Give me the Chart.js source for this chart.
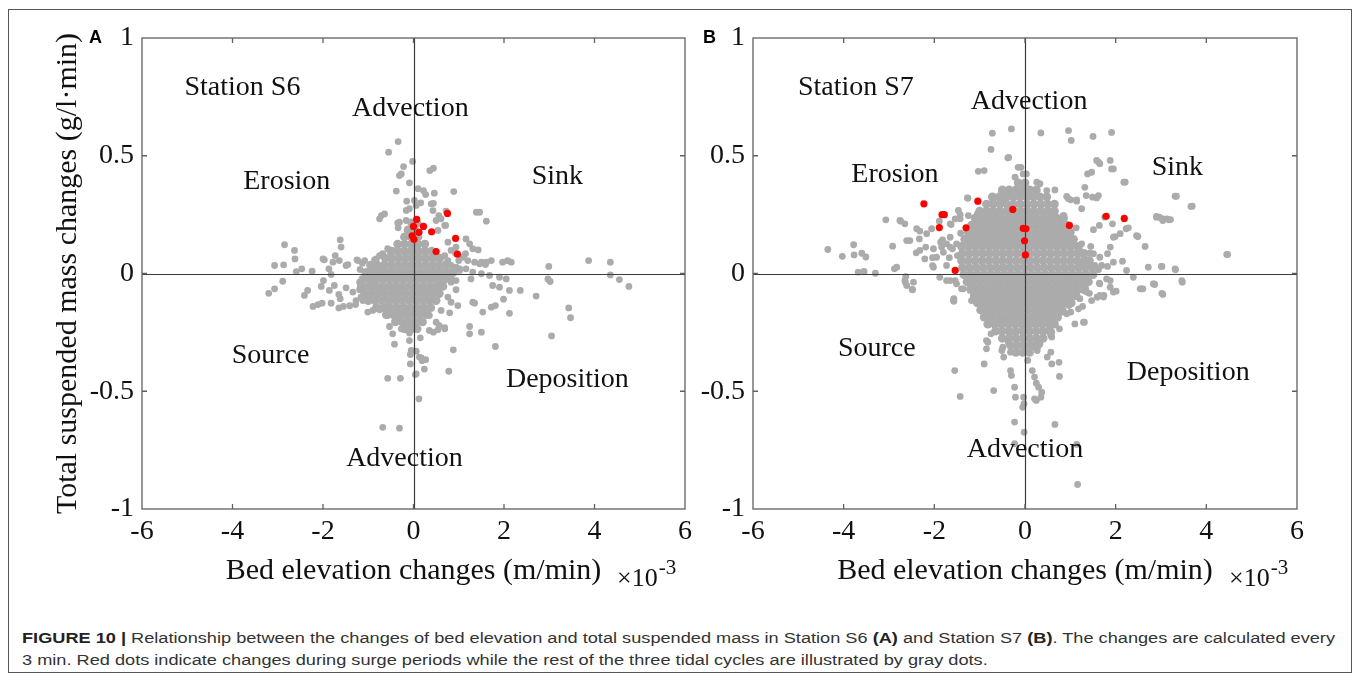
<!DOCTYPE html>
<html><head><meta charset="utf-8">
<script src="https://cdn.jsdelivr.net/npm/chart.js@4.4.1/dist/chart.umd.min.js"></script>
<style>
html,body{margin:0;padding:0;background:#fff;}
#wrap{position:relative;width:1360px;height:680px;overflow:hidden;background:#fff;}
#frame{position:absolute;left:8px;top:9px;width:1344px;height:664px;border:1px solid #555;box-sizing:border-box;}
#cA{position:absolute;left:0;top:0;}
#cB{position:absolute;left:690px;top:0;}
.plabel{position:absolute;font:bold 18px "Liberation Sans",Arial,sans-serif;color:#000;line-height:18px;}
.cap{position:absolute;left:22px;font:15.5px "Liberation Sans",Arial,sans-serif;color:#333;line-height:22px;white-space:nowrap;transform-origin:0 0;}
.cap b{font-weight:bold;color:#222;}
</style></head>
<body>
<div id="wrap">
  <div id="frame"></div>
  <canvas id="cA" width="700" height="600"></canvas>
  <canvas id="cB" width="670" height="600"></canvas>
  <div class="plabel" style="left:89px;top:28px;">A</div>
  <div class="plabel" style="left:703px;top:28px;">B</div>
  <div class="cap" id="cap1" style="top:627px;"><b>FIGURE 10 |</b> Relationship between the changes of bed elevation and total suspended mass in Station S6 <b>(A)</b> and Station S7 <b>(B)</b>. The changes are calculated every</div>
  <div class="cap" id="cap2" style="top:649px;">3 min. Red dots indicate changes during surge periods while the rest of the three tidal cycles are illustrated by gray dots.</div>
</div>
<script>
// ---------------- DATA ----------------
// x values are in units of 10^-3 m/min, y in g/l·min
const xTicks = [-6, -4, -2, 0, 2, 4, 6];
const yTicks = [-1, -0.5, 0, 0.5, 1];
const xTitle = 'Bed elevation changes (m/min)';
const yTitle = 'Total suspended mass changes (g/l\u00B7min)';

// Panel A (Station S6)
const redA = [[0.75,0.255],[0.07,0.23],[0.0,0.20],[0.22,0.20],[0.12,0.175],[0.40,0.177],[-0.03,0.16],[0.01,0.145],[0.93,0.149],[0.50,0.093],[0.97,0.082]];

const coreRowsA = [
 [0.215,[-0.04,0.08]],
 [0.185,[-0.12,0.03]],
 [0.155,[-0.2,-0.05,0.1]],
 [0.125,[-0.35,-0.2,-0.05,0.1,0.25]],
 [0.095,[-0.5,-0.35,-0.2,-0.05,0.1,0.25,0.4]],
 [0.065,[-0.62,-0.47,-0.32,-0.17,-0.02,0.13,0.28,0.43,0.58]],
 [0.035,[-0.95,-0.8,-0.65,-0.5,-0.35,-0.2,-0.05,0.1,0.25,0.4,0.55,0.7]],
 [0.005,[-1.05,-0.9,-0.75,-0.6,-0.45,-0.3,-0.15,0.0,0.15,0.3,0.45,0.6,0.75,0.88]],
 [-0.025,[-1.12,-0.97,-0.82,-0.67,-0.52,-0.37,-0.22,-0.07,0.08,0.23,0.38,0.53,0.68,0.82]],
 [-0.055,[-1.15,-1.0,-0.85,-0.7,-0.55,-0.4,-0.25,-0.1,0.05,0.2,0.35,0.5,0.65]],
 [-0.085,[-1.08,-0.93,-0.78,-0.63,-0.48,-0.33,-0.18,-0.03,0.12,0.27,0.42,0.57]],
 [-0.115,[-1.0,-0.85,-0.7,-0.55,-0.4,-0.25,-0.1,0.05,0.2,0.35,0.5]],
 [-0.145,[-0.82,-0.67,-0.52,-0.37,-0.22,-0.07,0.08,0.23,0.38]],
 [-0.175,[-0.6,-0.45,-0.3,-0.15,0.0,0.15,0.3]],
 [-0.205,[-0.4,-0.25,-0.1,0.05,0.2]],
 [-0.235,[-0.2,-0.05,0.08]]
];

const grayOutA = [
 [-0.34,0.56],[-0.55,0.515],[-0.02,0.476],[-0.22,0.454],[-0.27,0.423],[-0.31,0.416],[0.44,0.447],[0.36,0.437],[-0.09,0.385],[0.1,0.36],[0.22,0.352],[-0.38,0.35],[0.89,0.348],[0.46,0.341],[0.27,0.335],[0.44,0.298],[0.57,0.239],[0.72,0.265],[0.5,0.225],[0.69,0.204],[0.54,0.183],[-0.15,0.307],[-0.09,0.275],[-0.16,0.268],[0.06,0.289],[0.02,0.31],[-0.71,0.246],[-0.75,0.232],[-0.64,0.253],[-0.31,0.218],[-0.34,0.194],[-0.16,0.225],[-0.35,0.214],[0.16,0.30],[0.39,0.296],[0.43,0.267],[0.56,0.246],[0.61,0.232],[0.76,0.133],[0.94,0.112],[0.93,0.086],[0.71,0.204],
 [1.39,0.26],[1.46,0.26],[1.61,0.222],[1.16,0.147],[1.24,0.126],[1.31,0.105],[1.15,0.084],[1.43,0.10],[1.09,0.069],[1.2,0.055],[1.35,0.048],[1.5,0.048],[1.61,0.048],[1.72,0.055],[2.08,0.055],[1.97,0.048],[2.16,0.048],[0.76,0.055],[0.83,0.034],[1.02,0.02],[1.0,0.055],[0.69,0.076],[0.83,0.098],[1.59,0.038],[1.46,0.041],
 [2.99,0.03],[3.87,0.055],[4.35,0.048],[4.35,-0.006],[4.55,-0.026],[4.76,-0.055],[2.97,-0.023],[3.02,-0.034],
 [0.94,0.027],[1.02,0.013],[1.16,0.02],[1.31,0.006],[1.5,-0.001],[1.68,-0.008],[1.9,-0.016],[2.05,-0.023],[1.75,-0.051],[1.9,-0.058],[2.12,-0.072],[2.36,-0.072],[2.71,-0.096],[1.27,-0.023],[1.31,-0.122],[1.53,-0.164],[1.72,-0.143],[2.12,-0.169],[1.99,-0.109],[1.81,-0.136],[1.35,-0.126],[0.98,-0.136],[0.83,-0.122],[0.8,-0.167],[3.43,-0.146],[3.47,-0.188],[3.05,-0.265],[1.24,-0.225],[1.24,-0.256],[1.5,-0.249],[1.81,-0.31],[0.88,-0.324],[0.78,-0.415],[0.94,-0.069],[0.83,-0.037],[0.94,-0.03],[0.57,-0.03],[0.76,-0.1],[0.61,-0.157],[0.57,-0.221],[0.69,-0.235],[0.44,-0.249],[0.35,-0.242],[0.54,-0.239],[0.69,-0.23],[0.5,-0.207],[0.35,-0.178],[0.13,-0.2],
 [-0.05,-0.235],[-0.46,-0.256],[-0.42,-0.30],[-0.09,-0.253],[-0.09,-0.285],[-0.05,-0.327],[0.15,-0.273],[-0.07,-0.344],[0.06,-0.33],[0.17,-0.358],[0.27,-0.366],[0.13,-0.355],[-0.07,-0.384],[0.24,-0.406],[0.19,-0.37],[0.04,-0.429],[0.06,-0.426],[-0.57,-0.445],[-0.29,-0.445],[0.12,-0.532],[-0.68,-0.653],[-0.31,-0.657],[-0.53,-0.225],[-0.38,-0.2],[-0.27,-0.235],
 [-1.62,0.143],[-1.6,0.112],[-2.85,0.122],[-2.63,0.098],[-2.62,0.062],[-3.07,0.034],[-2.87,0.037],[-2.47,0.02],[-2.59,0.008],[-2.24,0.01],[-2.0,0.062],[-1.97,0.058],[-1.87,0.02],[-1.73,0.076],[-1.78,0.048],[-1.64,0.055],[-1.49,0.034],[-1.45,0.038],[-1.25,0.058],[-1.23,0.055],[-1.13,0.044],[-1.18,0.017],[-1.08,0.055],[-0.86,0.058],[-0.82,0.062],[-0.75,0.076],[-0.68,0.084],[-0.57,0.105],[-0.46,0.098],[-0.9,0.034],[-0.77,0.013],
 [-2.89,-0.033],[-3.07,-0.065],[-3.2,-0.084],[-1.82,-0.004],[-1.99,-0.03],[-1.75,-0.051],[-2.34,-0.072],[-2.41,-0.093],[-2.04,-0.055],[-2.22,-0.14],[-2.11,-0.132],[-2.02,-0.126],[-1.82,-0.126],[-1.65,-0.146],[-1.55,-0.14],[-1.41,-0.137],[-1.28,-0.132],[-1.86,-0.072],[-1.65,-0.089],[-1.62,-0.107],[-1.49,-0.061],[-1.34,-0.079],[-1.19,-0.069],[-1.16,-0.1],[-1.01,-0.164],[-0.9,-0.157],[-0.75,-0.154],[-0.97,-0.03],[-0.86,-0.044],[-1.19,-0.037],[-1.06,-0.061],[-1.27,-0.115],[-1.12,-0.115],[-0.9,-0.1],[-0.64,-0.143],[-0.57,-0.178]
];

// Panel B (Station S7)
const redB = [[-2.23,0.296],[-1.83,0.25],[-1.78,0.25],[-1.89,0.195],[-1.30,0.194],[-1.04,0.307],[-0.27,0.272],[-0.04,0.192],[0.02,0.19],[-0.01,0.139],[0.01,0.079],[-1.54,0.013],[0.98,0.204],[1.79,0.243],[2.19,0.234]];

const coreRowsB = [
 [0.385,[-0.15,0.0]],
 [0.355,[-0.5,-0.35,-0.2,-0.05,0.1,0.25]],
 [0.325,[-0.72,-0.57,-0.42,-0.27,-0.12,0.03,0.18,0.33,0.48]],
 [0.295,[-0.85,-0.7,-0.55,-0.4,-0.25,-0.1,0.05,0.2,0.35,0.5,0.65]],
 [0.265,[-1.0,-0.85,-0.7,-0.55,-0.4,-0.25,-0.1,0.05,0.2,0.35,0.5,0.65]],
 [0.235,[-1.1,-0.95,-0.8,-0.65,-0.5,-0.35,-0.2,-0.05,0.1,0.25,0.4,0.55,0.7,0.85]],
 [0.205,[-1.18,-1.03,-0.88,-0.73,-0.58,-0.43,-0.28,-0.13,0.02,0.17,0.32,0.47,0.62,0.77,0.92]],
 [0.175,[-1.25,-1.1,-0.95,-0.8,-0.65,-0.5,-0.35,-0.2,-0.05,0.1,0.25,0.4,0.55,0.7,0.85,1.0]],
 [0.145,[-1.33,-1.18,-1.03,-0.88,-0.73,-0.58,-0.43,-0.28,-0.13,0.02,0.17,0.32,0.47,0.62,0.77,0.92,1.07]],
 [0.115,[-1.4,-1.25,-1.1,-0.95,-0.8,-0.65,-0.5,-0.35,-0.2,-0.05,0.1,0.25,0.4,0.55,0.7,0.85,1.0,1.15]],
 [0.085,[-1.38,-1.23,-1.08,-0.93,-0.78,-0.63,-0.48,-0.33,-0.18,-0.03,0.12,0.27,0.42,0.57,0.72,0.87,1.02,1.17,1.3]],
 [0.055,[-1.4,-1.25,-1.1,-0.95,-0.8,-0.65,-0.5,-0.35,-0.2,-0.05,0.1,0.25,0.4,0.55,0.7,0.85,1.0,1.15,1.3,1.42]],
 [0.025,[-1.38,-1.23,-1.08,-0.93,-0.78,-0.63,-0.48,-0.33,-0.18,-0.03,0.12,0.27,0.42,0.57,0.72,0.87,1.02,1.17,1.32,1.47]],
 [-0.005,[-1.35,-1.2,-1.05,-0.9,-0.75,-0.6,-0.45,-0.3,-0.15,0.0,0.15,0.3,0.45,0.6,0.75,0.9,1.05,1.2,1.35,1.5]],
 [-0.035,[-1.28,-1.13,-0.98,-0.83,-0.68,-0.53,-0.38,-0.23,-0.08,0.07,0.22,0.37,0.52,0.67,0.82,0.97,1.12,1.27,1.4]],
 [-0.065,[-1.2,-1.05,-0.9,-0.75,-0.6,-0.45,-0.3,-0.15,0.0,0.15,0.3,0.45,0.6,0.75,0.9,1.05,1.2,1.32]],
 [-0.095,[-1.12,-0.97,-0.82,-0.67,-0.52,-0.37,-0.22,-0.07,0.08,0.23,0.38,0.53,0.68,0.83,0.98,1.13]],
 [-0.125,[-1.05,-0.9,-0.75,-0.6,-0.45,-0.3,-0.15,0.0,0.15,0.3,0.45,0.6,0.75,0.9,1.02]],
 [-0.155,[-0.98,-0.83,-0.68,-0.53,-0.38,-0.23,-0.08,0.07,0.22,0.37,0.52,0.67,0.82]],
 [-0.185,[-0.9,-0.75,-0.6,-0.45,-0.3,-0.15,0.0,0.15,0.3,0.45,0.6,0.72]],
 [-0.215,[-0.82,-0.67,-0.52,-0.37,-0.22,-0.07,0.08,0.23,0.38,0.53,0.65]],
 [-0.245,[-0.65,-0.5,-0.35,-0.2,-0.05,0.1,0.25,0.4,0.55]],
 [-0.275,[-0.5,-0.35,-0.2,-0.05,0.1,0.25,0.4]],
 [-0.305,[-0.32,-0.17,-0.02,0.13,0.28]],
 [-0.335,[-0.2,-0.05,0.1]]
];

const grayOutB = [
 [-0.72,0.596],[-0.30,0.614],[0.35,0.597],[0.96,0.607],[1.02,0.565],[1.50,0.582],[1.91,0.599],[-0.75,0.527],[-0.36,0.493],[-0.09,0.451],[0.03,0.423],[1.62,0.473],[1.65,0.466],[1.95,0.444],[1.38,0.423],[2.21,0.388],[3.34,0.328],[3.69,0.286],[2.96,0.239],[3.05,0.232],[3.21,0.229],[4.47,0.081],[-1.03,0.434],[-0.9,0.437],[-1.26,0.32],[-0.71,0.31],
 [-0.38,0.491],[-0.15,0.451],[-0.22,0.409],[-0.04,0.423],[-0.7,0.311],[-0.55,0.324],[-0.4,0.331],[-0.18,0.341],[-0.51,0.31],[0.26,0.388],[0.33,0.381],[0.48,0.352],[0.66,0.355],[1.32,0.366],[1.62,0.331],[1.58,0.321],[1.91,0.444],[1.47,0.43],[1.58,0.48],[1.88,0.48],[0.92,0.327],[1.14,0.313],[1.25,0.275],
 [0.66,0.246],[0.84,0.246],[0.62,0.197],[0.73,0.169],[0.62,0.169],[0.48,0.154],[1.07,0.119],[1.25,0.126],[1.51,0.084],[1.65,0.069],[1.88,0.112],[1.95,0.154],[2.1,0.169],[2.46,0.161],[2.65,0.115],[2.9,0.239],[3.02,0.232],[3.13,0.232],[2.72,0.027],[3.02,0.03],[3.31,0.02],[3.46,-0.03],[3.02,-0.084],[2.83,-0.044],[2.54,-0.065],[2.39,-0.016],[2.24,0.013],[1.88,-0.058],[1.95,-0.079],[1.65,-0.044],[1.73,-0.1],[1.47,-0.115],
 [-3.07,0.228],[-2.74,0.222],[-4.35,0.102],[-4.03,0.073],[-3.78,0.122],[-3.77,0.079],[-3.6,0.086],[-3.51,0.07],[-3.68,0.006],[-3.55,0.009],[-3.3,0.001],[-2.92,0.116],[-2.61,0.14],[-2.4,0.088],[-2.32,0.18],[-2.33,0.147],[-2.19,0.112],[-2.88,0.02],[-2.83,0.027],[-2.63,-0.013],[-2.65,-0.03],[-2.49,-0.068],[-2.64,-0.037],[-2.06,0.19],[-2.04,0.067],[-2.04,0.033],[-1.89,0.222],[-1.82,0.143],[-1.86,0.133],[-1.67,0.067],[-1.63,0.208],[-1.54,0.232],[-1.43,0.25],[-1.6,0.105],[-1.49,0.076],[-1.27,0.321],[-1.05,0.253],[-0.92,0.211],[-0.79,0.239],[-1.42,0.171],[-1.21,0.161],[-1.29,0.14],[-1.03,0.147],[-1.65,0.154],[-1.73,0.126],[-1.84,0.112],[-0.55,0.331],[-0.39,0.331],[-0.18,0.338],[0.04,0.345],[-1.73,-0.03],[-1.51,-0.044],[-1.36,-0.065],[-1.21,-0.072],[-1.57,-0.107],[-1.1,-0.107],[-1.57,-0.118],
 [-2.76,0.225],[-2.65,0.211],[-2.39,0.19],[-2.54,0.14],[-2.17,0.169],[-2.32,0.098],[-2.02,0.105],[-2.21,0.062],[-1.95,0.069],[-1.8,0.09],[-1.65,0.112],[-2.02,0.027],[-1.73,0.034],[-1.88,-0.016],[-1.65,-0.03],[-1.54,-0.03],[-1.29,-0.016],[-1.4,-0.065],[-1.58,-0.115],[-1.18,-0.115],[-2.46,-0.037],[-2.61,-0.051],
 [-1.47,0.268],[-1.25,0.246],[-1.43,0.232],[-1.65,0.211],[-1.1,0.218],[-0.92,0.197],[-1.03,0.239],[-0.81,0.246],[-0.62,0.256],[-0.55,0.225],[-0.84,0.169],[-0.99,0.14],[-1.18,0.154],[-1.32,0.133],[-1.51,0.126],
 [2.18,0.388],[3.31,0.328],[3.66,0.285],[2.9,0.242],[3.04,0.225],[3.18,0.228],[4.45,0.081],[2.49,0.157],[3.01,0.03],[3.32,0.016],[2.57,-0.065],[2.85,-0.044],[2.01,-0.075],[1.64,-0.041],[1.8,-0.023],[1.88,-0.03],[2.15,0.052],[1.95,0.048],[1.82,0.03],[1.69,0.034],[1.82,0.084],[1.99,0.157],[2.23,0.19],[2.28,0.194],[2.48,0.158],[1.93,0.211],[1.64,0.204],[1.51,0.186],[1.76,0.239],[1.35,0.331],[1.49,0.324],[1.14,0.307],[0.96,0.317],[1.01,0.313],[0.62,0.246],[0.86,0.246],[0.81,0.197],[1.13,0.194],[1.01,0.115],[1.2,0.105],[1.45,0.115],[1.43,0.086],[1.32,0.062],[1.54,0.034],[1.62,0.016],[1.21,0.048],
 [0.92,-0.016],[1.15,-0.037],[1.37,-0.03],[1.29,-0.072],[1.42,-0.084],[1.59,-0.1],[1.65,-0.093],[1.21,-0.107],[1.27,-0.14],[1.18,-0.15],[1.01,-0.164],[0.92,-0.171],[0.76,-0.235],[0.59,-0.249],[0.57,-0.263],[1.10,-0.214],[1.29,-0.207],[0.33,-0.299],[0.57,-0.334],[0.24,-0.299],
 [-2.48,-0.069],[-1.55,-0.412],[-1.43,-0.522],[-0.9,-0.384],[-0.69,-0.497],[-0.85,-0.32],[-0.82,-0.292],[-0.51,-0.327],[-0.49,-0.313],[-0.37,-0.292],[-0.32,-0.412],[-0.3,-0.433],[-0.23,-0.483],[-0.21,-0.525],[-0.02,-0.553],[-0.05,-0.568],[-0.03,-0.525],[0.06,-0.369],[0.16,-0.412],[0.21,-0.44],[0.25,-0.466],[0.3,-0.483],[0.35,-0.525],[0.37,-0.504],[0.25,-0.539],[0.21,-0.532],[0.3,-0.292],[0.27,-0.327],[0.49,-0.355],[0.59,-0.384],[0.75,-0.377],[0.76,-0.437],[-0.23,-0.631],[-0.02,-0.674],[0.66,-0.641],[1.14,-0.726],[1.16,-0.896],[-0.23,-0.723],[1.31,-0.207],[1.36,-0.079],[1.6,-0.1],[1.74,-0.093],[2.6,-0.065],[2.86,-0.047],[3.04,-0.089],[3.47,-0.037],
 [0.83,-0.164],[0.97,-0.136],[0.66,-0.2],[0.54,-0.242],[0.59,-0.27],[0.21,-0.313],[-0.9,-0.171],[-0.75,-0.256],[-0.85,-0.285],[-0.51,-0.2],[-0.32,-0.249],[-0.47,-0.355],[-0.32,-0.334]
];

// Quadrant labels (text, x, y in data units)
const labelTextA = ['Station S6','Advection','Erosion','Sink','Source','Deposition','Advection'];
const labelXA = [-3.78,-0.07,-2.8,3.18,-3.16,3.4,-0.2];
const labelYA = [0.79,0.70,0.39,0.41,-0.35,-0.45,-0.785];
const labelTextB = ['Station S7','Advection','Erosion','Sink','Source','Deposition','Advection'];
const labelXB = [-3.73,0.09,-2.87,3.36,-3.27,3.6,0.0];
const labelYB = [0.79,0.73,0.42,0.45,-0.32,-0.42,-0.75];

// ---------------- BUILD ----------------
const SERIF = '"Liberation Serif","Times New Roman",serif';
function flattenRows(rows){ const out=[]; rows.forEach(([y,xs])=>xs.forEach(x=>out.push({x,y}))); return out; }
function toPts(arr){ return arr.map(([x,y])=>({x,y})); }

const quadPlugin = {
  id:'quad',
  afterDatasetDraw(chart, args){
    if(args.index!==1) return;
    const {ctx, chartArea:a, scales:{x,y}} = chart;
    const x0=Math.round(x.getPixelForValue(0))+0.5, y0=Math.round(y.getPixelForValue(0))+0.5;
    ctx.save();
    ctx.strokeStyle='#3c3c3c'; ctx.lineWidth=1.2;
    ctx.beginPath();
    ctx.moveTo(x0,a.top); ctx.lineTo(x0,a.bottom);
    ctx.moveTo(a.left,y0); ctx.lineTo(a.right,y0);
    ctx.stroke();
    ctx.restore();
  },
  afterDraw(chart){
    const o = chart.options.plugins.quad;
    const {ctx, chartArea:a, scales:{x,y}} = chart;
    ctx.save();
    ctx.strokeStyle='#606060'; ctx.lineWidth=1.3;
    ctx.strokeRect(a.left,a.top,a.right-a.left,a.bottom-a.top);
    ctx.beginPath();
    x.ticks.forEach(t=>{ if(t.value<=-6||t.value>=6) return; const p=x.getPixelForValue(t.value);
      ctx.moveTo(p,a.bottom); ctx.lineTo(p,a.bottom-5); ctx.moveTo(p,a.top); ctx.lineTo(p,a.top+5); });
    y.ticks.forEach(t=>{ if(t.value<=-1||t.value>=1) return; const p=y.getPixelForValue(t.value);
      ctx.moveTo(a.left,p); ctx.lineTo(a.left+5,p); ctx.moveTo(a.right,p); ctx.lineTo(a.right-5,p); });
    ctx.stroke();
    // quadrant labels
    ctx.fillStyle='#111'; ctx.font='28px '+SERIF; ctx.textAlign='center'; ctx.textBaseline='middle';
    o.text.forEach((s,i)=>ctx.fillText(s, x.getPixelForValue(o.lx[i]), y.getPixelForValue(o.ly[i])));
    // x10^-3 multiplier
    ctx.textAlign='left'; ctx.textBaseline='alphabetic';
    ctx.font='26px '+SERIF;
    const mx=a.right-68, my=a.bottom+77;
    ctx.fillText('\u00D710', mx, my);
    const w=ctx.measureText('\u00D710').width;
    ctx.font='21px '+SERIF;
    ctx.fillText('-3', mx+w+1, my-12);
    ctx.restore();
  }
};

function makeChart(id, red, outliers, core, o){
  return new Chart(document.getElementById(id), {
    type:'scatter',
    data:{datasets:[
      {data:toPts(red), backgroundColor:'#ff0000', pointRadius:3.6, pointHoverRadius:3.6, borderWidth:0},
      {data:toPts(outliers), backgroundColor:'#ababab', pointRadius:3.4, pointHoverRadius:3.4, borderWidth:0},
      {data:core, backgroundColor:'#ababab', pointRadius:4.4, pointHoverRadius:4.4, borderWidth:0}
    ]},
    options:{
      responsive:false, animation:false, devicePixelRatio:1,
      layout:{padding:{left:0,right:o.padRight,top:38,bottom:0}},
      plugins:{legend:{display:false}, tooltip:{enabled:false}, quad:{text:o.text, lx:o.lx, ly:o.ly}},
      scales:{
        x:{type:'linear', min:-6, max:6,
           afterBuildTicks(s){ s.ticks = xTicks.map(v=>({value:v})); },
           ticks:{padding:6, color:'#111', font:{family:SERIF,size:28}, callback:v=>String(v), maxRotation:0, autoSkip:false},
           grid:{display:false, drawTicks:false}, border:{display:false},
           title:{display:true, text:xTitle, color:'#111', font:{family:SERIF,size:30}, padding:{top:0,bottom:11}},
           afterFit(s){ s.height=91; }},
        y:{type:'linear', min:-1, max:1,
           afterBuildTicks(s){ s.ticks = yTicks.map(v=>({value:v})); },
           ticks:{padding:8, color:'#111', font:{family:SERIF,size:28}, callback:v=>String(v), autoSkip:false},
           grid:{display:false, drawTicks:false}, border:{display:false},
           title:{display:o.showYTitle, text:yTitle, color:'#111', font:{family:SERIF,size:30}, padding:{top:50,bottom:0}},
           afterFit(s){ s.width=o.yWidth; }}
      }
    },
    plugins:[quadPlugin]
  });
}

makeChart('cA', redA, grayOutA, flattenRows(coreRowsA),
  {padRight:15, yWidth:142, showYTitle:true, text:labelTextA, lx:labelXA, ly:labelYA});
makeChart('cB', redB, grayOutB, flattenRows(coreRowsB),
  {padRight:63, yWidth:63, showYTitle:false, text:labelTextB, lx:labelXB, ly:labelYB});

// fit caption line width to the reference (line 1 spans x=22..1335)
const c1=document.getElementById('cap1'), c2=document.getElementById('cap2');
const sc = 1313 / c1.getBoundingClientRect().width;
c1.style.transform='scaleX('+sc+')'; c2.style.transform='scaleX('+sc+')';
</script>
</body></html>
